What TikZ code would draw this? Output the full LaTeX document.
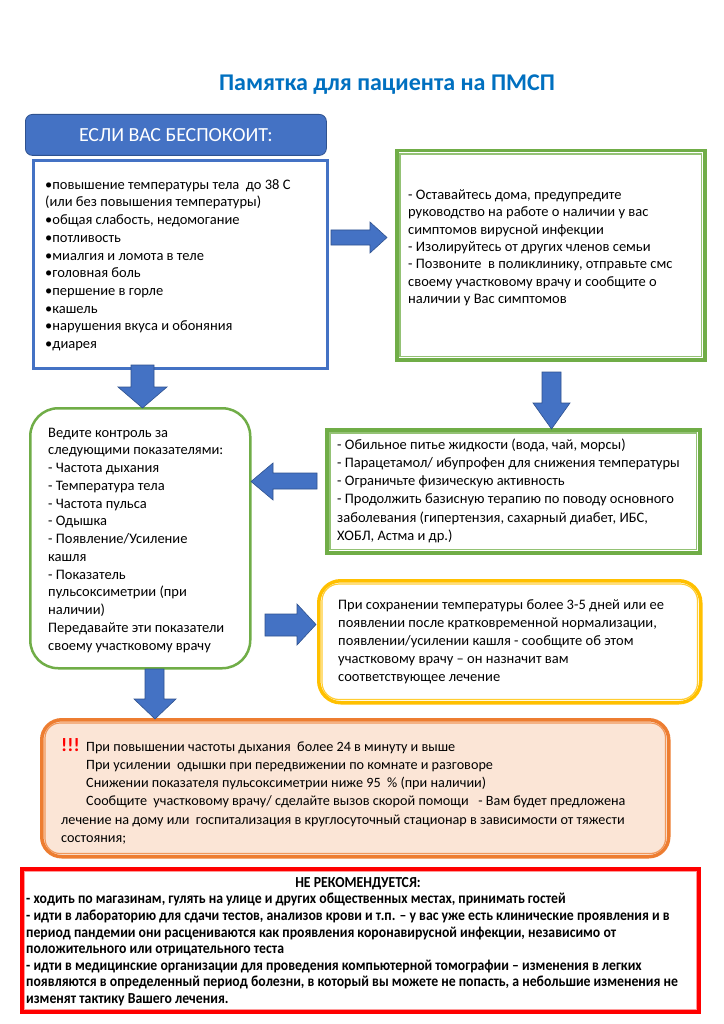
\documentclass[tikz,border=0pt]{standalone}
\usepackage{fontspec}
\setmainfont{Carlito}
\newfontfamily\narrowfont[FakeStretch=0.9]{Carlito}
\usetikzlibrary{calc}
\definecolor{tblue}{HTML}{0070C0}
\definecolor{aBlue}{HTML}{4472C4}
\definecolor{aBlueD}{HTML}{2F528F}
\definecolor{aGreen}{HTML}{70AD47}
\definecolor{aYellow}{HTML}{FFC000}
\definecolor{aOrange}{HTML}{ED7D31}
\definecolor{aPeach}{HTML}{FBE5D6}
\definecolor{aRed}{HTML}{FF0000}
\definecolor{aPink}{HTML}{FF9A9A}
\newcommand\tstrut{\rule{0pt}{12pt}}
\begin{document}
\begin{tikzpicture}[x=1pt,y=-1pt,
  txt/.style={anchor=north west, inner sep=0pt, align=left, font=\fontsize{14.5}{17.7}\selectfont},
  barrow/.style={fill=aBlue, draw=aBlueD, line width=0.6pt, line join=miter},
  frame/.style={anchor=north west, inner sep=0pt, fill=white},
]
\useasboundingbox[fill=white] (0,0) rectangle (723,1024);

% title
\node[font=\fontsize{24}{28}\selectfont\bfseries, text=tblue] (title) at (387,85) {Памятка для пациента на ПМСП};

% header
\node[draw=aBlueD, fill=aBlue, rounded corners=7pt, line width=0.8pt, minimum width=301, minimum height=41,
  anchor=north west, text=white, font=\fontsize{20}{22}\selectfont] (head) at (25,114) {ЕСЛИ ВАС БЕСПОКОИТ:};

% symptoms box
\node[frame, draw=aBlue, line width=2.8pt, minimum width=294, minimum height=208] (sym) at (32,159) {};
\node[txt] (symt) at (45,177) {\tstrut•повышение температуры тела~ до 38 С\\
(или без повышения температуры)\\
•общая слабость, недомогание\\
•потливость\\
•миалгия и ломота в теле\\
•головная боль\\
•першение в горле\\
•кашель\\
•нарушения вкуса и обоняния\\
•диарея};

% green box 1
\node[frame, draw=aGreen, line width=3.5pt, minimum width=308, minimum height=209] (g1) at (395,149) {};
\draw[aGreen!75, line width=1.3pt] ($(g1.north west)+(5,5)$) rectangle ($(g1.south east)+(-5,-5)$);
\node[txt, font=\fontsize{14.5}{17.4}\selectfont] (g1t) at (408,187) {\tstrut- Оставайтесь дома, предупредите\\
руководство на работе о наличии у вас\\
симптомов вирусной инфекции\\
- Изолируйтесь от других членов семьи\\
- Позвоните~ в поликлинику, отправьте смс\\
своему участковому врачу и сообщите о\\
наличии у Вас симптомов};

% left green rounded box
\node[frame, draw=aGreen, line width=2.5pt, rounded corners=28pt, minimum width=220, minimum height=260] (lg) at (29,407) {};
\begin{scope}
\clip (31,409) rectangle (247,654);
\node[txt, font=\fontsize{14.5}{17.75}\selectfont] (lgt) at (48,425) {\tstrut Ведите контроль за\\
следующими показателями:\\
- Частота дыхания\\
- Температура тела\\
- Частота пульса\\
- Одышка\\
- Появление/Усиление\\
кашля\\
- Показатель\\
пульсоксиметрии (при\\
наличии)\\
Передавайте эти показатели\\
своему участковому врачу};
\end{scope}

% green box 2
\node[frame, draw=aGreen, line width=3.5pt, minimum width=373, minimum height=123] (g2) at (325,428) {};
\draw[aGreen!75, line width=1.3pt] ($(g2.north west)+(5,5)$) rectangle ($(g2.south east)+(-5,-5)$);
\node[txt, font=\fontsize{14.5}{18.2}\selectfont] (g2t) at (337,437) {\tstrut- Обильное питье жидкости (вода, чай, морсы)\\
- Парацетамол/ ибупрофен для снижения температуры\\
- Ограничьте физическую активность\\
- Продолжить базисную терапию по поводу основного\\
заболевания (гипертензия, сахарный диабет, ИБС,\\
ХОБЛ, Астма и др.)};

% yellow box
\node[frame, draw=aYellow, line width=3.5pt, rounded corners=22pt, minimum width=382, minimum height=122] (yb) at (317,579) {};
\draw[aYellow!80, line width=1.2pt, rounded corners=17pt] ($(yb.north west)+(5,5)$) rectangle ($(yb.south east)+(-5,-5)$);
\node[txt, font=\fontsize{14.5}{18.1}\selectfont] (ybt) at (338,597) {\tstrut При сохранении температуры более 3-5 дней или ее\\
появлении после кратковременной нормализации,\\
появлении/усилении кашля - сообщите об этом\\
участковому врачу – он назначит вам\\
соответствующее лечение};

% orange box
\node[frame, fill=aPeach, draw=aOrange, line width=3.5pt, rounded corners=20pt, minimum width=627, minimum height=137] (ob) at (40,718) {};
\draw[aOrange!80, line width=1.2pt, rounded corners=15pt] ($(ob.north west)+(5,5)$) rectangle ($(ob.south east)+(-5,-5)$);
\node[txt, font=\fontsize{14.2}{18.2}\selectfont] (obt) at (61,737) {\rule{0pt}{14pt}\makebox[25pt][l]{\textcolor{aRed}{\bfseries\fontsize{19}{18}\selectfont !!!}}При повышении частоты дыхания~ более 24 в минуту и выше\\
\hspace*{25pt}При усилении~ одышки при передвижении по комнате и разговоре\\
\hspace*{25pt}Снижении показателя пульсоксиметрии ниже 95~ \% (при наличии)\\
\hspace*{25pt}Сообщите~ участковому врачу/ сделайте вызов скорой помощи~~ - Вам будет предложена\\
лечение на дому или~ госпитализация в круглосуточный стационар в зависимости от тяжести\\
состояния;};

% red box
\node[frame, draw=aRed, line width=4.5pt, minimum width=676, minimum height=142] (rb) at (20,867) {};
\draw[aPink, line width=0.8pt] ($(rb.north west)+(4.5,4.5)$) rectangle ($(rb.south east)+(-4.5,-4.5)$);
\node[anchor=north, inner sep=0pt, font=\narrowfont\bfseries\fontsize{15.3}{16.6}\selectfont] (rbh) at (358,875) {\tstrut НЕ РЕКОМЕНДУЕТСЯ:};
\node[txt, font=\narrowfont\bfseries\fontsize{15.3}{16.6}\selectfont] (rbt) at (26,891.6) {\tstrut- ходить по магазинам, гулять на улице и других общественных местах, принимать гостей\\
- идти в лабораторию для сдачи тестов, анализов крови и т.п. – у вас уже есть клинические проявления и в\\
период пандемии они расцениваются как проявления коронавирусной инфекции, независимо от\\
положительного или отрицательного теста\\
- идти в медицинские организации для проведения компьютерной томографии – изменения в легких\\
появляются в определенный период болезни, в который вы можете не попасть, а небольшие изменения не\\
изменят тактику Вашего лечения.};

% block arrows
\draw[barrow] (331,230) -- (370,230) -- (370,222) -- (387,237.5) -- (370,253) -- (370,245) -- (331,245) -- cycle;
\draw[barrow] (131,365) -- (154,365) -- (154,387) -- (167,387) -- (142.5,408) -- (118,387) -- (131,387) -- cycle;
\draw[barrow] (542,372) -- (561,372) -- (561,403) -- (570,403) -- (551.5,429) -- (533,403) -- (542,403) -- cycle;
\draw[barrow] (317,473) -- (273,473) -- (273,463) -- (251,481.5) -- (273,500) -- (273,489) -- (317,489) -- cycle;
\draw[barrow] (265,614) -- (297,614) -- (297,604) -- (316,624.5) -- (297,645) -- (297,636) -- (265,636) -- cycle;
\draw[barrow] (145,669) -- (164,669) -- (164,699) -- (176,699) -- (155,719) -- (134,699) -- (145,699) -- cycle;
\end{tikzpicture}
\end{document}
